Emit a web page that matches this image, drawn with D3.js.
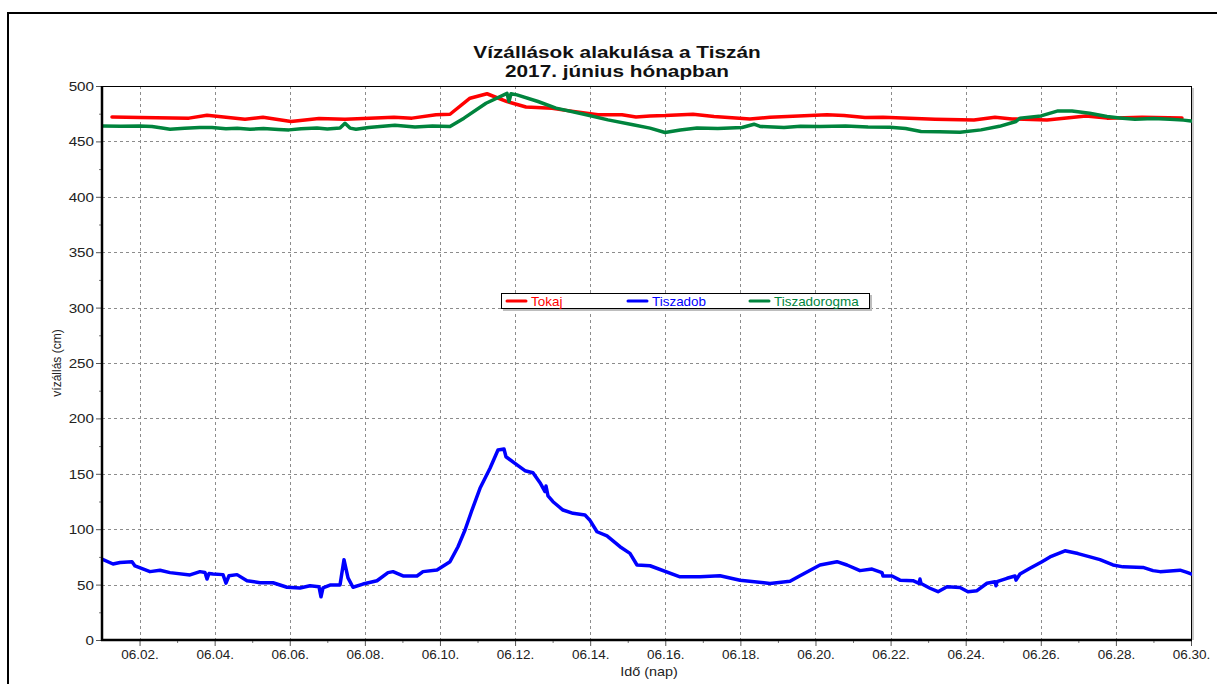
<!DOCTYPE html>
<html>
<head>
<meta charset="utf-8">
<script src="https://cdn.jsdelivr.net/npm/d3@7"></script>
<style>
  html, body { margin: 0; padding: 0; background: #fff; }
  svg { display: block; font-family: "Liberation Sans", Arial, sans-serif; }
</style>
</head>
<body>
<svg id="chart" width="1217" height="684"></svg>
<script>
// ---- DATA (day of June, fractional; water level in cm) ----
const tokajDay   = [1.266,2.012,3.317,3.796,4.808,5.287,6.033,6.779,7.471,8.776,9.255,9.894,10.267,10.800,11.253,11.785,12.291,12.984,13.356,14.208,14.848,15.220,15.593,15.993,16.738,17.298,18.256,18.789,20.307,20.759,21.319,21.798,23.183,24.221,24.780,25.233,26.165,27.204,27.763,28.695,29.760];
const tokajLevel = [472,471.5,471,473.6,470,471.8,468,470.6,470,471.8,471,474,474.5,489,493,486,481,480,478,474,474,472,473,473.3,474.5,472.4,470.3,471.8,474,473.3,471.5,471.8,470,469.4,471.8,470.3,469.4,473,471,471.8,471.2];

const dorogmaDay   = [1.0,1.5,2.0,2.332,2.6,2.811,3.2,3.6,3.929,4.3,4.6,4.941,5.3,5.7,5.980,6.3,6.725,7.0,7.338,7.471,7.604,7.764,8.1,8.403,8.8,9.335,9.8,10.267,10.640,11.226,11.785,11.838,11.892,12.051,12.611,13.090,13.836,14.475,15.140,15.593,15.993,16.4,16.845,17.4,18.043,18.363,18.523,19.162,19.6,20.121,20.8,21.4,21.985,22.4,22.810,23.3,23.849,24.408,24.9,25.340,25.446,26.006,26.458,26.831,27.3,27.763,28.1,28.508,29.0,29.440,29.8,30.0];
const dorogmaLevel = [464,463.6,463.8,463.4,462,461,461.8,462.6,462.5,461.4,461.8,461,461.6,460.8,460.4,461.4,462,461.2,462,466.4,462,461,462.6,463.4,464.6,463,463.8,463.4,471,484.4,493.4,486,493,492,486,480,474.5,469.4,465,462,458,460.2,462,461.6,462.5,465.5,463.5,462.5,463.6,463.4,463.8,463,462.8,461.6,459,458.8,458.3,460.4,463.6,468,471,473,477.5,477.5,475.4,472.4,471.2,470,470.6,470,469.2,468.5];

const tiszadobDay   = [1.000,1.293,1.479,1.799,1.879,2.278,2.545,2.811,3.343,3.610,3.743,3.796,3.850,3.956,4.222,4.302,4.382,4.595,4.861,5.208,5.554,5.927,6.273,6.539,6.779,6.832,6.885,7.072,7.338,7.444,7.551,7.684,7.950,8.323,8.616,8.749,9.016,9.388,9.548,9.921,10.267,10.480,10.667,10.853,11.066,11.333,11.545,11.705,11.758,12.051,12.264,12.477,12.664,12.797,12.824,12.877,13.010,13.276,13.543,13.862,13.995,14.182,14.448,14.794,15.060,15.247,15.593,16.392,16.925,17.457,17.990,18.789,19.322,19.588,20.120,20.573,20.839,21.185,21.505,21.771,21.798,22.037,22.250,22.597,22.757,22.783,22.810,23.050,23.263,23.502,23.848,24.061,24.301,24.567,24.780,24.807,24.834,25.100,25.313,25.340,25.446,25.712,26.032,26.245,26.644,26.990,27.310,27.576,27.922,28.189,28.722,28.988,29.175,29.708,29.894,30.000];
const tiszadobLevel = [73,68.6,70,70.7,66.8,61.7,63,60.8,58.7,61.7,61,55,60,59.6,59,51.3,58,59,53.5,51.7,51.7,47.6,46.9,49,48,39,47,49.6,49.6,72.5,56,47.6,50.5,53.5,60.8,61.7,57.8,57.8,61.7,63.2,70.7,84.2,99.3,117.3,136.9,155,171.5,172.4,165.4,158,152.8,151,142,134,139,130,124.8,117.3,114.3,112.8,108,97.7,93.9,84.2,78.2,67.7,67,57,57,58,54,51,53,58,67.7,70.7,67.7,62.6,64,60.8,57.8,57.8,54,53.5,51.2,55,51,46.7,43.6,48.1,47.4,43.6,44.5,51.2,52.6,49,52.6,55.7,57.8,54,59.6,64.7,70.7,75,80.5,78,75,72.5,67.7,66,65.5,62.6,61.7,63,61,59.6];

const xTickDays   = [2,4,6,8,10,12,14,16,18,20,22,24,26,28,30];
const xTickLabels = ["06.02.","06.04.","06.06.","06.08.","06.10.","06.12.","06.14.","06.16.","06.18.","06.20.","06.22.","06.24.","06.26.","06.28.","06.30."];
const yTicks      = [0,50,100,150,200,250,300,350,400,450,500];
const yMinorTicks = [25,75,125,175,225,275,325,375,425,475];

const series = [
  { name: "Tokaj",        color: "#ff0000", day: tokajDay,    level: tokajLevel },
  { name: "Tiszadob",     color: "#0000ff", day: tiszadobDay, level: tiszadobLevel },
  { name: "Tiszadorogma", color: "#00843d", day: dorogmaDay,  level: dorogmaLevel }
];

// ---- LAYOUT ----
const L = 102, R = 1191, T = 86, B = 640;
const svg = d3.select("#chart");
const x = d3.scaleLinear().domain([1, 30]).range([L, R]);
const y = d3.scaleLinear().domain([0, 500]).range([B, T]);

// outer frame
svg.append("line").attr("x1", 8).attr("x2", 1217).attr("y1", 13).attr("y2", 13).attr("stroke", "#000").attr("stroke-width", 2);
svg.append("line").attr("x1", 8).attr("x2", 8).attr("y1", 12).attr("y2", 684).attr("stroke", "#000").attr("stroke-width", 2);

// title (wide face: stretched horizontally)
svg.append("text").attr("transform", "translate(617,58) scale(1.3,1)").attr("text-anchor", "middle")
  .attr("font-size", 16).attr("font-weight", "bold").attr("fill", "#111").text("Vízállások alakulása a Tiszán");
svg.append("text").attr("transform", "translate(617,77) scale(1.3,1)").attr("text-anchor", "middle")
  .attr("font-size", 16).attr("font-weight", "bold").attr("fill", "#111").text("2017. június hónapban");

// plot area shadow
svg.append("line").attr("x1", R + 2).attr("x2", R + 2).attr("y1", T + 2).attr("y2", B).attr("stroke", "#c8c8c8").attr("stroke-width", 2);

// gridlines
const grid = svg.append("g").attr("stroke", "#8c8c8c").attr("stroke-width", 1).attr("stroke-dasharray", "3,3");
grid.selectAll("line.v").data(xTickDays.filter(d => d < 30)).enter().append("line")
  .attr("x1", d => Math.round(x(d)) + 0.5).attr("x2", d => Math.round(x(d)) + 0.5)
  .attr("y1", T).attr("y2", B);
grid.selectAll("line.h").data(yTicks.filter(v => v > 0 && v < 500)).enter().append("line")
  .attr("x1", L).attr("x2", R)
  .attr("y1", v => Math.round(y(v)) + 0.5).attr("y2", v => Math.round(y(v)) + 0.5);

// top & right border
svg.append("line").attr("x1", L).attr("x2", R + 0.5).attr("y1", T + 0.5).attr("y2", T + 0.5).attr("stroke", "#000").attr("stroke-width", 1);
svg.append("line").attr("x1", R + 0.5).attr("x2", R + 0.5).attr("y1", T).attr("y2", B).attr("stroke", "#000").attr("stroke-width", 1);

// clip
svg.append("clipPath").attr("id", "clip").append("rect").attr("x", L).attr("y", T).attr("width", R - L + 1).attr("height", B - T);

const line = d3.line().x(d => x(d[0])).y(d => y(d[1])).curve(d3.curveLinear);
const lines = svg.append("g").attr("clip-path", "url(#clip)");
series.forEach(s => {
  const pts = s.day.map((d, i) => [d, s.level[i]]);
  lines.append("path").datum(pts).attr("d", line)
    .attr("fill", "none").attr("stroke", s.color).attr("stroke-width", 3.5)
    .attr("stroke-linejoin", "round").attr("stroke-linecap", "round");
});

// y axis
const yAxis = svg.append("g").attr("transform", `translate(${L},0)`)
  .call(d3.axisLeft(y).tickValues(yTicks).tickSize(6).tickFormat(d3.format("d")));
yAxis.select(".domain").remove();
yAxis.selectAll(".tick line").attr("stroke", "#555");
yAxis.selectAll(".tick text").attr("font-size", 13).attr("fill", "#222")
  .attr("x", 0).attr("dy", "0.34em")
  .attr("transform", "translate(-8,0) scale(1.17,1)");
const yMinor = svg.append("g").attr("transform", `translate(${L},0)`)
  .call(d3.axisLeft(y).tickValues(yMinorTicks).tickSize(3).tickFormat(""));
yMinor.select(".domain").remove();
yMinor.selectAll(".tick line").attr("stroke", "#777");

// x axis
const xAxis = svg.append("g").attr("transform", `translate(0,${B})`)
  .call(d3.axisBottom(x).tickValues(xTickDays).tickSize(6)
    .tickFormat((d, i) => xTickLabels[i]));
xAxis.select(".domain").remove();
xAxis.selectAll(".tick line").attr("stroke", "#555");
xAxis.selectAll(".tick text").attr("font-size", 13.5).attr("fill", "#222").attr("y", 9);
const xMinor = svg.append("g").attr("transform", `translate(0,${B})`)
  .call(d3.axisBottom(x).tickValues(d3.range(3, 30, 2)).tickSize(3).tickFormat(""));
xMinor.select(".domain").remove();
xMinor.selectAll(".tick line").attr("stroke", "#777");

// thick axis lines
svg.append("line").attr("x1", L).attr("x2", L).attr("y1", T).attr("y2", B + 1).attr("stroke", "#000").attr("stroke-width", 2.5);
svg.append("line").attr("x1", L - 1).attr("x2", R + 1).attr("y1", B).attr("y2", B).attr("stroke", "#000").attr("stroke-width", 2.5);

// axis titles
svg.append("text").attr("transform", "translate(649,676) scale(1.2,1)").attr("text-anchor", "middle")
  .attr("font-size", 12).attr("fill", "#222").text("Idő (nap)");
svg.append("text").attr("transform", "translate(61,363) rotate(-90)").attr("text-anchor", "middle")
  .attr("font-size", 12).attr("fill", "#222").text("vízállás (cm)");

// legend
const lg = svg.append("g");
lg.append("rect").attr("x", 503).attr("y", 295).attr("width", 369).attr("height", 16).attr("fill", "#bdbdbd");
lg.append("rect").attr("x", 501.5).attr("y", 293.5).attr("width", 368).attr("height", 15).attr("fill", "#fff").attr("stroke", "#000").attr("stroke-width", 1);
const legX = [507, 628, 750];
series.forEach((s, i) => {
  lg.append("line").attr("x1", legX[i]).attr("x2", legX[i] + 19).attr("y1", 301).attr("y2", 301)
    .attr("stroke", s.color).attr("stroke-width", 3).attr("stroke-linecap", "round");
  lg.append("text").attr("transform", `translate(${legX[i] + 24},305.5) scale(1.12,1)`)
    .attr("font-size", 12).attr("fill", s.color).text(s.name);
});
</script>
</body>
</html>
